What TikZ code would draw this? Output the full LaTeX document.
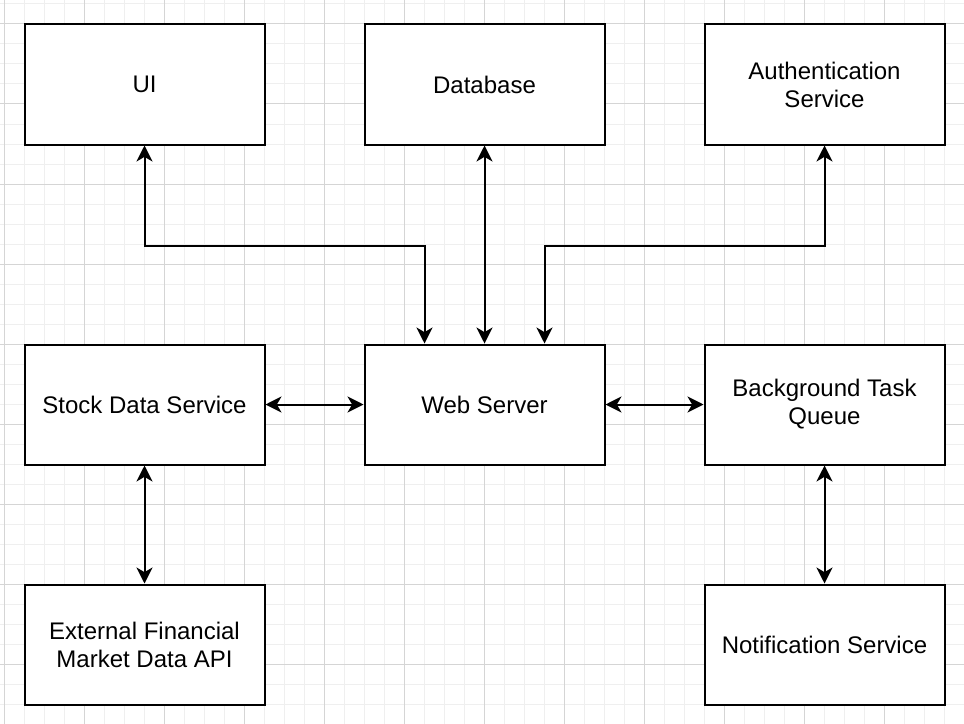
\documentclass[tikz,border=0pt]{standalone}
\usepackage{fontspec}
\setmainfont{Liberation Sans}
\usetikzlibrary{arrows.meta}
\definecolor{gridminor}{HTML}{EFEFEF}
\definecolor{gridmajor}{HTML}{D5D5D5}

\begin{document}
\begin{tikzpicture}[x=0.75pt,y=-0.75pt,
    box/.style={draw, line width=1.5pt, fill=white, minimum width=180pt,
        minimum height=90pt, align=center, font=\fontsize{18}{21}\selectfont},
    link/.style={line width=1.5pt, {Stealth[length=12pt,width=12pt,inset=3.5pt]}-{Stealth[length=12pt,width=12pt,inset=3.5pt]}}]
    \useasboundingbox (0,0) rectangle (964,724);
    \fill[white] (0,0) rectangle (964,724);

    % background grid
    \foreach \x in {4,24,...,964} \draw[gridminor, line width=0.75pt] (\x,0) -- (\x,724);
    \foreach \y in {4,24,...,724} \draw[gridminor, line width=0.75pt] (0,\y) -- (964,\y);
    \foreach \x in {4,84,...,964} \draw[gridmajor, line width=0.75pt] (\x,0) -- (\x,724);
    \foreach \y in {24,104,...,664} \draw[gridmajor, line width=0.75pt] (0,\y) -- (964,\y);

    \node[box] (ui) at (144.5,84.5) {UI};
    \node[box] (db) at (484.5,84.5) {Database};
    \node[box] (auth) at (824.5,84.5) {Authentication\\Service};
    \node[box] (stock) at (144.5,404.5) {Stock Data Service};
    \node[box] (web) at (484.5,404.5) {Web Server};
    \node[box] (queue) at (824.5,404.5) {Background Task\\Queue};
    \node[box] (ext) at (144.5,644.5) {External Financial\\Market Data API};
    \node[box] (notify) at (824.5,644.5) {Notification Service};

    \draw[link] (ui.south) -- ++(0,100) -| ([xshift=-45pt]web.north);
    \draw[link] (db) -- (web);
    \draw[link] (auth.south) -- ++(0,100) -| ([xshift=45pt]web.north);
    \draw[link] (stock) -- (web);
    \draw[link] (web) -- (queue);
    \draw[link] (stock) -- (ext);
    \draw[link] (queue) -- (notify);
\end{tikzpicture}
\end{document}
